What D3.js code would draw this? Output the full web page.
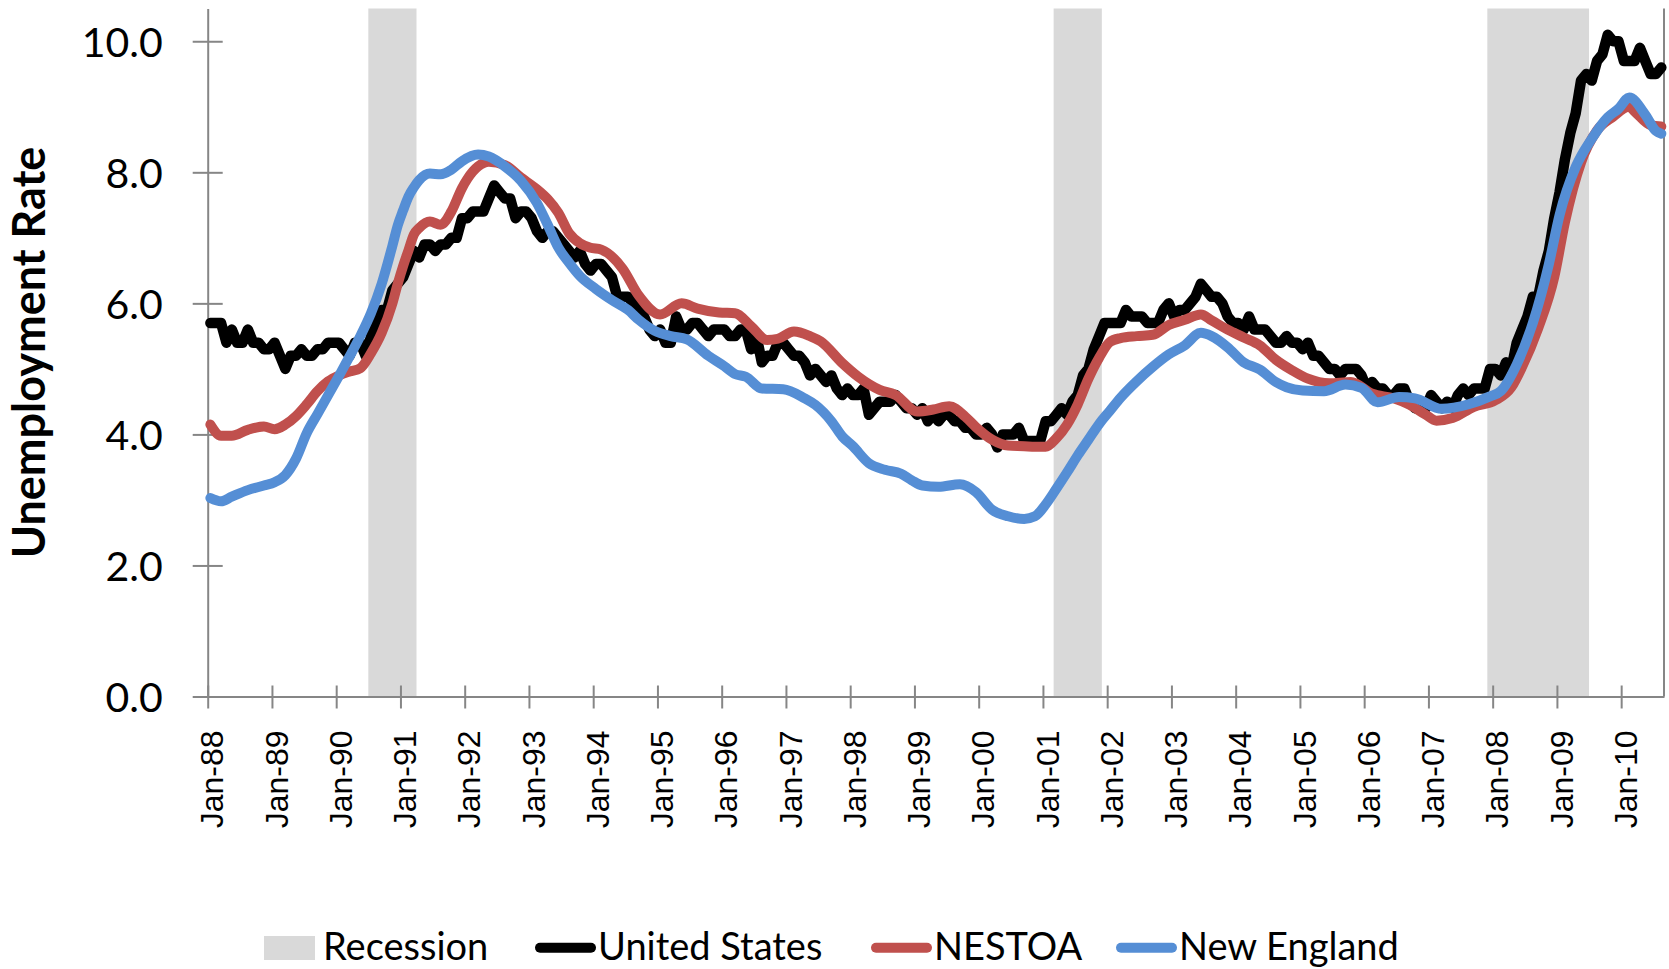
<!DOCTYPE html>
<html>
<head>
<meta charset="utf-8">
<script src="https://cdn.jsdelivr.net/npm/d3@7"></script>
<style>
  body { margin: 0; background: #fff; }
  svg { display: block; }
</style>
</head>
<body>
<div id="plotarea"></div>
<script>
// monthly US unemployment rate, Jan-88 .. Aug-10
var usRate = [
  5.7,5.7,5.7,5.4,5.6,5.4,5.4,5.6,5.4,5.4,5.3,5.3,   // 1988
  5.4,5.2,5.0,5.2,5.2,5.3,5.2,5.2,5.3,5.3,5.4,5.4,   // 1989
  5.4,5.3,5.2,5.4,5.4,5.2,5.5,5.7,5.9,5.9,6.2,6.3,   // 1990
  6.4,6.6,6.8,6.7,6.9,6.9,6.8,6.9,6.9,7.0,7.0,7.3,   // 1991
  7.3,7.4,7.4,7.4,7.6,7.8,7.7,7.6,7.6,7.3,7.4,7.4,   // 1992
  7.3,7.1,7.0,7.1,7.1,7.0,6.9,6.8,6.7,6.8,6.6,6.5,   // 1993
  6.6,6.6,6.5,6.4,6.1,6.1,6.1,6.0,5.9,5.8,5.6,5.5,   // 1994
  5.6,5.4,5.4,5.8,5.6,5.6,5.7,5.7,5.6,5.5,5.6,5.6,   // 1995
  5.6,5.5,5.5,5.6,5.6,5.3,5.5,5.1,5.2,5.2,5.4,5.4,   // 1996
  5.3,5.2,5.2,5.1,4.9,5.0,4.9,4.8,4.9,4.7,4.6,4.7,   // 1997
  4.6,4.6,4.7,4.3,4.4,4.5,4.5,4.5,4.6,4.5,4.4,4.4,   // 1998
  4.3,4.4,4.2,4.3,4.2,4.3,4.3,4.2,4.2,4.1,4.1,4.0,   // 1999
  4.0,4.1,4.0,3.8,4.0,4.0,4.0,4.1,3.9,3.9,3.9,3.9,   // 2000
  4.2,4.2,4.3,4.4,4.3,4.5,4.6,4.9,5.0,5.3,5.5,5.7,   // 2001
  5.7,5.7,5.7,5.9,5.8,5.8,5.8,5.7,5.7,5.7,5.9,6.0,   // 2002
  5.8,5.9,5.9,6.0,6.1,6.3,6.2,6.1,6.1,6.0,5.8,5.7,   // 2003
  5.7,5.6,5.8,5.6,5.6,5.6,5.5,5.4,5.4,5.5,5.4,5.4,   // 2004
  5.3,5.4,5.2,5.2,5.1,5.0,5.0,4.9,5.0,5.0,5.0,4.9,   // 2005
  4.7,4.8,4.7,4.7,4.6,4.6,4.7,4.7,4.5,4.4,4.5,4.4,   // 2006
  4.6,4.5,4.4,4.5,4.4,4.6,4.7,4.6,4.7,4.7,4.7,5.0,   // 2007
  5.0,4.9,5.1,5.0,5.4,5.6,5.8,6.1,6.1,6.5,6.8,7.3,   // 2008
  7.7,8.2,8.6,8.9,9.4,9.5,9.4,9.7,9.8,10.1,10.0,10.0, // 2009
  9.7,9.7,9.7,9.9,9.7,9.5,9.5,9.6                    // 2010
];
var usStart = "1988-01";

// NESTOA
var nestoaMonths = ["1988-01","1988-03","1988-05","1988-08","1988-11","1989-01","1989-03","1989-05","1989-07","1989-09",
  "1989-11","1990-01","1990-03","1990-05","1990-07","1990-09","1990-11","1990-12","1991-01","1991-02",
  "1991-03","1991-04","1991-06","1991-08","1991-10","1991-12","1992-01","1992-03","1992-05","1992-08",
  "1992-11","1993-02","1993-04","1993-06","1993-08","1993-10","1993-12","1994-02","1994-06","1994-09",
  "1995-01","1995-05","1995-08","1995-12","1996-03","1996-06","1996-09","1996-11","1997-02","1997-05",
  "1997-07","1997-11","1998-02","1998-06","1998-09","1999-01","1999-04","1999-07","1999-10","1999-12",
  "2000-03","2000-06","2000-09","2000-11","2001-01","2001-03","2001-05","2001-07","2001-09","2001-11",
  "2002-01","2002-03","2002-06","2002-09","2002-12","2003-03","2003-06","2003-08","2003-11","2004-02",
  "2004-05","2004-08","2004-11","2005-02","2005-06","2005-10","2006-02","2006-06","2006-09","2006-12",
  "2007-02","2007-05","2007-09","2008-01","2008-04","2008-06","2008-09","2008-12","2009-02","2009-05",
  "2009-08","2009-11","2010-02","2010-03","2010-06","2010-08"];
var nestoaRate = [4.15,3.98,3.98,4.07,4.12,4.08,4.15,4.28,4.46,4.66,
  4.81,4.90,4.96,5.01,5.24,5.55,6.00,6.30,6.57,6.81,
  7.05,7.15,7.25,7.20,7.40,7.76,7.90,8.09,8.16,8.11,
  7.92,7.74,7.59,7.38,7.07,6.92,6.85,6.82,6.53,6.12,
  5.83,6.00,5.92,5.86,5.85,5.65,5.44,5.46,5.57,5.50,
  5.42,5.09,4.88,4.68,4.60,4.35,4.38,4.43,4.27,4.11,
  3.92,3.83,3.82,3.81,3.81,3.94,4.15,4.46,4.85,5.17,
  5.41,5.47,5.50,5.52,5.67,5.75,5.83,5.74,5.60,5.48,
  5.36,5.14,4.98,4.85,4.78,4.80,4.62,4.55,4.45,4.30,
  4.21,4.25,4.42,4.52,4.72,5.03,5.62,6.40,7.24,8.15,
  8.64,8.85,9.00,8.93,8.72,8.70];

// New England
var neMonths = ["1988-01","1988-03","1988-05","1988-08","1988-11","1989-01","1989-03","1989-05","1989-07","1989-09",
  "1989-11","1990-01","1990-03","1990-05","1990-07","1990-09","1990-11","1990-12","1991-01","1991-02",
  "1991-03","1991-04","1991-06","1991-08","1991-10","1991-12","1992-03","1992-05","1992-08","1992-11",
  "1993-02","1993-04","1993-06","1993-08","1993-10","1994-01","1994-04","1994-07","1994-09","1994-12",
  "1995-03","1995-06","1995-10","1996-01","1996-03","1996-05","1996-08","1996-12","1997-04","1997-06",
  "1997-09","1997-11","1998-01","1998-04","1998-07","1998-10","1998-12","1999-02","1999-05","1999-09",
  "1999-12","2000-03","2000-06","2000-09","2000-11","2001-01","2001-03","2001-05","2001-07","2001-09",
  "2001-11","2002-01","2002-03","2002-06","2002-09","2002-12","2003-03","2003-06","2003-08","2003-11",
  "2004-02","2004-05","2004-08","2004-10","2005-01","2005-05","2005-09","2005-12","2006-03","2006-07",
  "2006-10","2007-03","2007-08","2007-12","2008-02","2008-05","2008-08","2008-11","2009-01","2009-04",
  "2009-07","2009-10","2009-12","2010-02","2010-05","2010-07","2010-08"];
var neRate = [3.03,2.98,3.05,3.15,3.22,3.27,3.38,3.63,4.02,4.31,
  4.60,4.89,5.19,5.50,5.85,6.30,6.88,7.19,7.42,7.63,
  7.77,7.88,7.98,7.97,8.04,8.17,8.27,8.24,8.09,7.87,
  7.53,7.20,6.85,6.62,6.42,6.22,6.05,5.90,5.75,5.58,
  5.50,5.45,5.20,5.04,4.92,4.88,4.70,4.69,4.55,4.45,
  4.20,3.97,3.82,3.56,3.46,3.40,3.30,3.22,3.20,3.24,
  3.12,2.85,2.75,2.71,2.75,2.93,3.17,3.42,3.68,3.92,
  4.16,4.36,4.56,4.81,5.03,5.22,5.36,5.55,5.50,5.33,
  5.10,4.99,4.80,4.72,4.67,4.66,4.76,4.71,4.49,4.57,
  4.55,4.39,4.46,4.58,4.66,5.07,5.70,6.60,7.35,8.08,
  8.51,8.84,8.97,9.14,8.88,8.63,8.59];

// NBER recessions (first and last month)
var recessionStart = ["1990-07","2001-03","2007-12"];
var recessionEnd = ["1991-03","2001-11","2009-06"];

var xTickLabels = ["Jan-88","Jan-89","Jan-90","Jan-91","Jan-92","Jan-93","Jan-94","Jan-95","Jan-96","Jan-97","Jan-98",
  "Jan-99","Jan-00","Jan-01","Jan-02","Jan-03","Jan-04","Jan-05","Jan-06","Jan-07","Jan-08","Jan-09","Jan-10"];
var yTicks = [0, 2, 4, 6, 8, 10];
var legendLabels = ["Recession", "United States", "NESTOA", "New England"];
var seriesColors = ["#d9d9d9", "#000000", "#c0504d", "#558ed5"];

function monthIndex(s) {
  var p = s.split("-");
  return (+p[0] - 1988) * 12 + (+p[1] - 1);
}

var W = 1669, H = 969;
var axisColor = "#868686";
var calibri = "Lato, 'Open Sans', sans-serif";

var svg = d3.select("#plotarea").append("svg")
  .attr("width", W)
  .attr("height", H);

// months run from Jan-88 to the end of Aug-10, each month is one slot
var nMonths = usRate.length;
var x = d3.scaleLinear().domain([0, nMonths]).range([207.7, 1664]);
var y = d3.scaleLinear().domain([0, 10.5]).range([696.5, 8.5]);

// recession bars
var recessions = recessionStart.map(function(s, i) {
  return { start: monthIndex(s), end: monthIndex(recessionEnd[i]) + 1 };
});
svg.append("g").selectAll("rect").data(recessions).enter().append("rect")
  .attr("x", function(d) { return x(d.start); })
  .attr("width", function(d) { return x(d.end) - x(d.start); })
  .attr("y", y(10.5))
  .attr("height", y(0) - y(10.5))
  .attr("fill", seriesColors[0]);

// right hand border
svg.append("line")
  .attr("x1", x(nMonths)).attr("x2", x(nMonths))
  .attr("y1", y(0)).attr("y2", y(10.5))
  .attr("stroke", axisColor).attr("stroke-width", 2);

// y axis
var yAxis = svg.append("g")
  .attr("transform", "translate(" + x(0) + ",0)")
  .call(d3.axisLeft(y).tickValues(yTicks).tickFormat(d3.format(".1f")).tickSizeOuter(0));
yAxis.select(".domain").attr("stroke", axisColor).attr("stroke-width", 2);
yAxis.selectAll(".tick line").attr("x1", -15).attr("x2", 15)
  .attr("stroke", axisColor).attr("stroke-width", 2);
yAxis.selectAll(".tick text")
  .attr("x", -45).attr("dy", "0.36em")
  .style("font-family", calibri).style("font-size", "41px").attr("fill", "#000");

// x axis
var xAxis = svg.append("g")
  .attr("transform", "translate(0," + y(0) + ")")
  .call(d3.axisBottom(x)
    .tickValues(d3.range(0, xTickLabels.length * 12, 12))
    .tickFormat(function(d, i) { return xTickLabels[i]; })
    .tickSizeOuter(0));
xAxis.select(".domain").attr("stroke", axisColor).attr("stroke-width", 2);
xAxis.selectAll(".tick line").attr("y1", -11).attr("y2", 12)
  .attr("stroke", axisColor).attr("stroke-width", 2);
xAxis.selectAll(".tick text")
  .attr("transform", "rotate(-90)")
  .attr("x", -34).attr("y", 4).attr("dy", "0.35em")
  .style("text-anchor", "end")
  .style("font-family", "'Liberation Sans', Arial, sans-serif")
  .style("font-size", "32px").attr("fill", "#000");

// y axis title
svg.append("text")
  .attr("transform", "translate(45,352.5) rotate(-90)")
  .attr("text-anchor", "middle")
  .style("font-family", calibri).style("font-weight", "bold").style("font-size", "45px")
  .text("Unemployment Rate");

// lines
var usLine = d3.line()
  .x(function(d, i) { return x(monthIndex(usStart) + i + 0.5); })
  .y(function(d) { return y(d); });
var smoothLine = d3.line()
  .curve(d3.curveMonotoneX)
  .x(function(d) { return x(d.m + 0.5); })
  .y(function(d) { return y(d.v); });

function pairUp(months, rates) {
  return months.map(function(m, i) { return { m: monthIndex(m), v: rates[i] }; });
}

svg.append("path").attr("d", usLine(usRate))
  .attr("fill", "none").attr("stroke", seriesColors[1]).attr("stroke-width", 10.5)
  .attr("stroke-linejoin", "round").attr("stroke-linecap", "round");
svg.append("path").attr("d", smoothLine(pairUp(nestoaMonths, nestoaRate)))
  .attr("fill", "none").attr("stroke", seriesColors[2]).attr("stroke-width", 10)
  .attr("stroke-linejoin", "round").attr("stroke-linecap", "round");
svg.append("path").attr("d", smoothLine(pairUp(neMonths, neRate)))
  .attr("fill", "none").attr("stroke", seriesColors[3]).attr("stroke-width", 10)
  .attr("stroke-linejoin", "round").attr("stroke-linecap", "round");

// legend, sits right at the bottom edge
var legendX = [264, 535, 871, 1116];
var legendBase = 960;
var legend = svg.append("g");
legendLabels.forEach(function(label, i) {
  var lx = legendX[i];
  if (i == 0) {
    legend.append("rect")
      .attr("x", lx).attr("y", legendBase - 24).attr("width", 51).attr("height", 24)
      .attr("fill", seriesColors[0]);
  } else {
    legend.append("line")
      .attr("x1", lx + 5).attr("x2", lx + 56)
      .attr("y1", legendBase - 12.3).attr("y2", legendBase - 12.3)
      .attr("stroke", seriesColors[i]).attr("stroke-width", 10)
      .attr("stroke-linecap", "round");
  }
  legend.append("text")
    .attr("x", lx + (i == 0 ? 59 : 63))
    .attr("y", legendBase)
    .style("font-family", calibri).style("font-size", "38px")
    .text(label);
});
</script>
</body>
</html>
